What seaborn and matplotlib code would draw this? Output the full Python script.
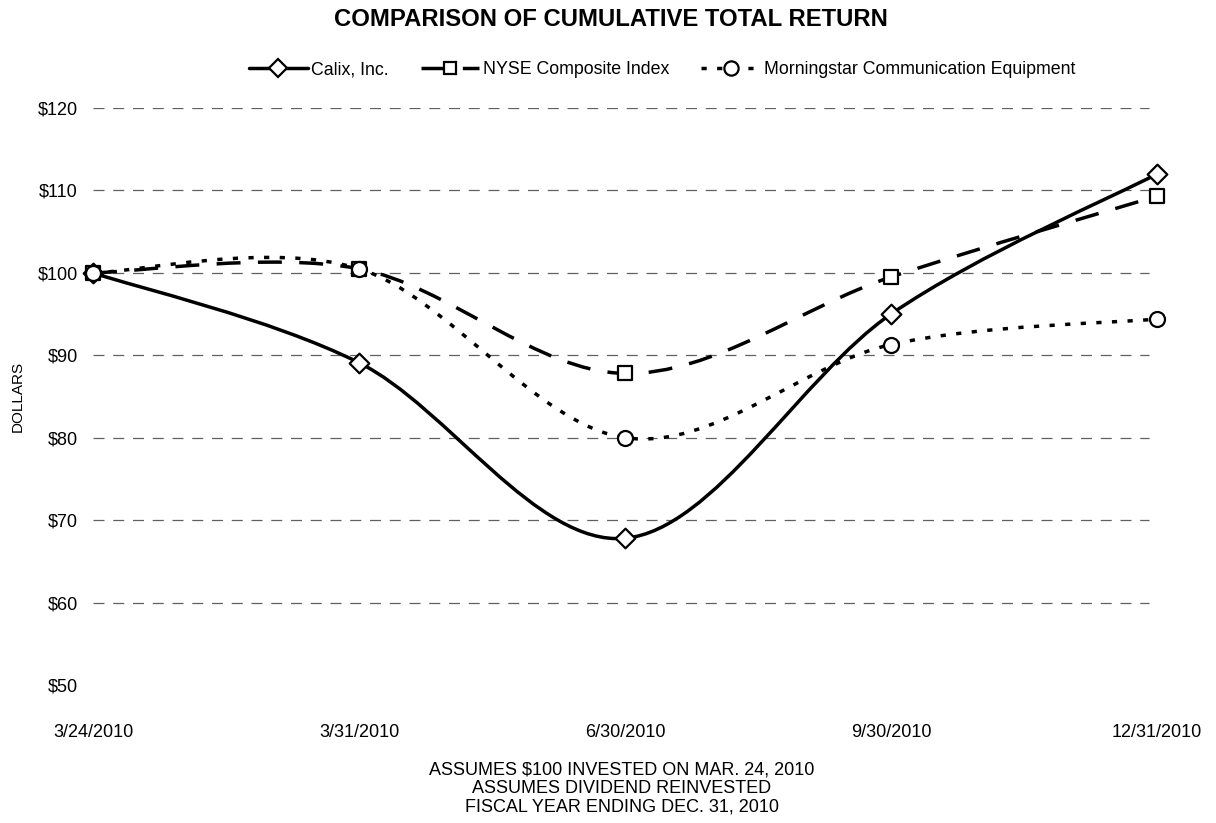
import numpy as np
import pandas as pd
import matplotlib
matplotlib.use("Agg")
import matplotlib.pyplot as plt
from matplotlib.path import Path
from matplotlib.patches import PathPatch
from matplotlib.lines import Line2D
import seaborn as sns

# ---- data ----
dates = ["3/24/2010", "3/31/2010", "6/30/2010", "9/30/2010", "12/31/2010"]
calix = [100.0, 89.1, 67.8, 95.0, 112.0]
nyse = [100.0, 100.5, 87.8, 99.5, 109.3]
morningstar = [100.0, 100.5, 80.0, 91.3, 94.4]
series_names = ["Calix, Inc.", "NYSE Composite Index", "Morningstar Communication Equipment"]
y_ticks = [50, 60, 70, 80, 90, 100, 110, 120]
y_tick_labels = ["$" + str(v) for v in y_ticks]
title = "COMPARISON OF CUMULATIVE TOTAL RETURN"
footnotes = ["ASSUMES $100 INVESTED ON MAR. 24, 2010",
             "ASSUMES DIVIDEND REINVESTED",
             "FISCAL YEAR ENDING DEC. 31, 2010"]

sns.set_theme(style="white")
plt.rcParams["font.family"] = ["Liberation Sans", "DejaVu Sans"]
plt.rcParams["text.color"] = "black"
plt.rcParams["xtick.color"] = "black"
plt.rcParams["ytick.color"] = "black"
plt.rcParams["axes.labelcolor"] = "black"

xpos = np.arange(len(dates))
df = pd.DataFrame({"x": np.tile(xpos, 3),
                   "value": calix + nyse + morningstar,
                   "series": np.repeat(series_names, len(dates))})

fig = plt.figure(figsize=(12.16, 8.23), dpi=100)
ax = fig.add_axes([93 / 1216, (823 - 685) / 823, (1157 - 93) / 1216, (685 - 108) / 823])

ax.set_xlim(0, 4)
ax.set_ylim(50, 120)

# gridlines (no line at $50)
ax.hlines(y_ticks[1:], 0.0, 3.97, colors="#606060", linewidth=0.9,
          linestyles=[(0, (8.8, 7.0))], zorder=1)

styles = {
    "Calix, Inc.": dict(ls="-", marker="D", ms=10.0),
    "NYSE Composite Index": dict(ls=(0, (6.9, 5.0)), marker="s", ms=9.6),
    "Morningstar Communication Equipment": dict(ls=(0, (1.5, 3.0)), marker="o", ms=10.8),
}
LW = 2.5


def smooth_path(xs, ys):
    pts = np.column_stack([xs, ys]).astype(float)
    P = np.vstack([pts[0], pts, pts[-1]])
    verts = [pts[0]]
    codes = [Path.MOVETO]
    for i in range(len(pts) - 1):
        p0, p1, p2, p3 = P[i], P[i + 1], P[i + 2], P[i + 3]
        c1 = p1 + (p2 - p0) / 6.0
        c2 = p2 - (p3 - p1) / 6.0
        verts += [c1, c2, p2]
        codes += [Path.CURVE4] * 3
    return Path(verts, codes)


for name in series_names:
    sub = df[df["series"] == name]
    st = styles[name]
    patch = PathPatch(smooth_path(sub["x"].values, sub["value"].values),
                      facecolor="none", edgecolor="black", linewidth=LW,
                      linestyle=st["ls"], zorder=3, capstyle="butt")
    ax.add_patch(patch)
    sns.scatterplot(data=sub, x="x", y="value", marker=st["marker"],
                    s=st["ms"] ** 2, color="white", edgecolor="black",
                    linewidth=1.6, zorder=5, ax=ax, clip_on=False, legend=False)

sns.despine(ax=ax, left=True, bottom=True)
ax.set_xticks(xpos)
ax.set_xticklabels(dates, fontsize=13)
ax.set_yticks(y_ticks)
ax.set_yticklabels(y_tick_labels, fontsize=13)
ax.tick_params(axis="x", length=0, pad=28)
ax.tick_params(axis="y", length=0, pad=11)
ax.set_xlabel("")
ax.set_ylabel("")
ax.grid(False)

fig.text(18 / 1216, 1 - 396 / 823, "DOLLARS", rotation=90, ha="center", va="center", fontsize=11)
fig.text(611 / 1216, 1 - 20 / 823, title, ha="center", va="center", fontsize=17.2, fontweight="bold")
for i, line in enumerate(footnotes):
    fig.text(622 / 1216, 1 - (770 + 18.5 * i) / 823, line, ha="center", va="center", fontsize=13)

handles = []
for name in series_names:
    st = styles[name]
    handles.append(Line2D([], [], color="black", linewidth=LW, linestyle=st["ls"],
                          marker=st["marker"], markersize=st["ms"] * 0.95,
                          markerfacecolor="white", markeredgecolor="black",
                          markeredgewidth=1.6))
fig.legend(handles, series_names, loc="center", bbox_to_anchor=(662 / 1216, 1 - 70 / 823),
           ncol=3, frameon=False, fontsize=12.8, handlelength=3.3, handletextpad=0.2,
           columnspacing=1.8)

fig.savefig("out.png", dpi=100, facecolor="white")
